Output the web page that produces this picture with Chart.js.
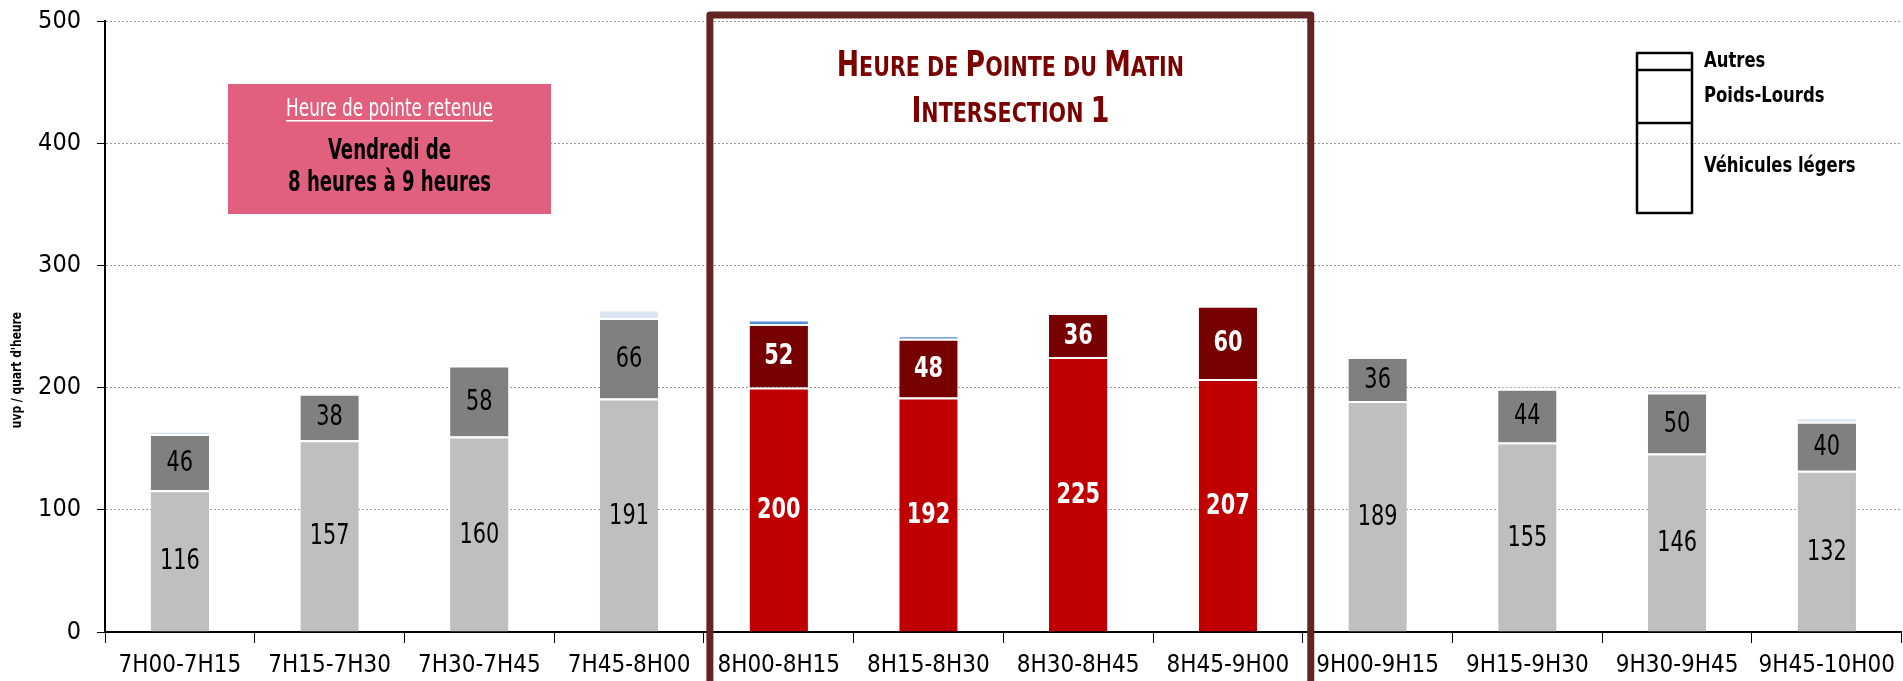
<!DOCTYPE html>
<html>
<head>
<meta charset="utf-8">
<script src="https://cdn.jsdelivr.net/npm/chart.js@4.4.1/dist/chart.umd.min.js"></script>
<style>
  html, body { margin: 0; padding: 0; background: #fff; overflow: hidden; }
  #wrap { width: 1903px; height: 681px; position: relative; }
</style>
</head>
<body>
<div id="wrap"><canvas id="chart"></canvas></div>
<script>
// Data
const categories = ['7H00-7H15', '7H15-7H30', '7H30-7H45', '7H45-8H00', '8H00-8H15', '8H15-8H30',
  '8H30-8H45', '8H45-9H00', '9H00-9H15', '9H15-9H30', '9H30-9H45', '9H45-10H00'];
const vehiculesLegers = [116, 157, 160, 191, 200, 192, 225, 207, 189, 155, 146, 132];
const poidsLourds = [46, 38, 58, 66, 52, 48, 36, 60, 36, 44, 50, 40];
const autres = [2, 0, 0, 6, 3, 2, 0, 0, 0, 1, 2, 3];
const peakHours = ['8H00-8H15', '8H15-8H30', '8H30-8H45', '8H45-9H00'];
const yTicks = [0, 100, 200, 300, 400, 500];

const NARROW = '"Liberation Sans Narrow", "Arial Narrow", "DejaVu Sans Condensed", sans-serif';

const isPeak = categories.map(c => peakHours.includes(c));
const colorsFor = (peak, normal) => isPeak.map(p => p ? peak : normal);

// text squeezed sideways, to look like the narrow font of the original
function narrowText(ctx, text, x, y, font, align, sx) {
  ctx.save();
  ctx.font = font;
  ctx.textAlign = 'left';
  const w = ctx.measureText(text).width * sx;
  let left = x;
  if (align === 'center') left = x - w / 2;
  else if (align === 'right') left = x - w;
  ctx.translate(left, y);
  ctx.scale(sx, 1);
  ctx.fillText(text, 0, 0);
  ctx.restore();
  return w;
}

// Value labels centred in the segments
const valueLabels = {
  id: 'valueLabels',
  afterDatasetsDraw(chart) {
    const ctx = chart.ctx;
    ctx.save();
    ctx.textBaseline = 'middle';
    [0, 1].forEach(di => {
      const meta = chart.getDatasetMeta(di);
      meta.data.forEach((bar, i) => {
        const v = chart.data.datasets[di].data[i];
        ctx.fillStyle = isPeak[i] ? '#fff' : '#000';
        narrowText(ctx, String(v), bar.x, (bar.y + bar.base) / 2 + 1,
          (isPeak[i] ? 'bold ' : '') + '29px ' + NARROW, 'center', 0.8);
      });
    });
    ctx.restore();
  }
};

// Frame, title, note box, legend
const decor = {
  id: 'decor',
  afterDraw(chart) {
    const ctx = chart.ctx;
    const x = chart.scales.x;
    ctx.save();

    // y title
    ctx.save();
    ctx.translate(17, 370);
    ctx.rotate(-Math.PI / 2);
    ctx.fillStyle = '#000';
    ctx.textBaseline = 'middle';
    narrowText(ctx, "uvp / quart d'heure", 0, 0, 'bold 14px ' + NARROW, 'center', 0.85);
    ctx.restore();

    // note box
    ctx.fillStyle = '#E0607E';
    ctx.fillRect(228, 84, 323, 130);
    ctx.textBaseline = 'middle';
    ctx.fillStyle = '#fff';
    const nw = narrowText(ctx, 'Heure de pointe retenue', 389.5, 109, '25px ' + NARROW, 'center', 0.75);
    ctx.fillRect(389.5 - nw / 2, 120, nw, 1.5);
    ctx.fillStyle = '#000';
    narrowText(ctx, 'Vendredi de', 389.5, 152, 'bold 28px ' + NARROW, 'center', 0.72);
    narrowText(ctx, '8 heures à 9 heures', 389.5, 184, 'bold 28px ' + NARROW, 'center', 0.72);

    // frame round the peak hour
    const left = x.getPixelForValue(3.5) + 6;
    const right = x.getPixelForValue(7.5) + 8;
    ctx.strokeStyle = '#632523';
    ctx.lineWidth = 7;
    ctx.lineJoin = 'round';
    ctx.beginPath();
    ctx.moveTo(left, 700);
    ctx.lineTo(left, 15);
    ctx.lineTo(right, 15);
    ctx.lineTo(right, 700);
    ctx.stroke();

    // title in small caps
    const cx = (left + right) / 2;
    const drawCaps = (parts, y) => {
      ctx.textBaseline = 'alphabetic';
      const sx = 0.85;
      let w = 0;
      parts.forEach(p => { ctx.font = 'bold ' + p[1] + 'px ' + NARROW; w += ctx.measureText(p[0]).width * sx; });
      let px = cx - w / 2;
      parts.forEach(p => {
        px += narrowText(ctx, p[0], px, y, 'bold ' + p[1] + 'px ' + NARROW, 'left', sx);
      });
    };
    ctx.fillStyle = '#7B0000';
    drawCaps([['H', 35], ['EURE DE ', 27], ['P', 35], ['OINTE DU ', 27], ['M', 35], ['ATIN', 27]], 76);
    drawCaps([['I', 35], ['NTERSECTION ', 27], ['1', 35]], 122);

    // legend
    ctx.strokeStyle = '#000';
    ctx.lineWidth = 2.5;
    ctx.strokeRect(1637, 53, 55, 160);
    ctx.beginPath();
    ctx.moveTo(1637, 70); ctx.lineTo(1692, 70);
    ctx.moveTo(1637, 123); ctx.lineTo(1692, 123);
    ctx.stroke();
    ctx.fillStyle = '#000';
    ctx.textBaseline = 'middle';
    const lf = 'bold 21px ' + NARROW;
    narrowText(ctx, 'Autres', 1704, 62, lf, 'left', 0.87);
    narrowText(ctx, 'Poids-Lourds', 1704, 97, lf, 'left', 0.87);
    narrowText(ctx, 'Véhicules légers', 1704, 167, lf, 'left', 0.87);
    ctx.restore();
  }
};

new Chart(document.getElementById('chart'), {
  type: 'bar',
  data: {
    labels: categories,
    datasets: [
      {
        label: 'Véhicules légers',
        data: vehiculesLegers,
        backgroundColor: colorsFor('#C00000', '#BFBFBF'),
        borderColor: '#fff',
        borderWidth: { top: 2, left: 0, right: 0, bottom: 0 }
      },
      {
        label: 'Poids-Lourds',
        data: poidsLourds,
        backgroundColor: colorsFor('#770000', '#808080'),
        borderColor: '#fff',
        borderWidth: { top: 2, left: 0, right: 0, bottom: 0 }
      },
      {
        label: 'Autres',
        data: autres,
        backgroundColor: colorsFor('#558ED5', '#DCE6F2'),
        borderColor: '#fff',
        borderWidth: { top: 1, left: 0, right: 0, bottom: 0 }
      }
    ]
  },
  options: {
    responsive: true,
    maintainAspectRatio: false,
    animation: false,
    layout: { padding: { top: 21, right: 0, left: 0, bottom: 0 } },
    datasets: { bar: { barPercentage: 0.39, categoryPercentage: 1 } },
    plugins: {
      legend: { display: false },
      tooltip: { enabled: false },
      title: { display: false }
    },
    scales: {
      x: {
        stacked: true,
        afterFit: axis => { axis.height = 49; },
        grid: { offset: true, drawOnChartArea: false, drawTicks: true, tickLength: 11, color: '#000' },
        border: { display: true, color: '#000', width: 2 },
        ticks: { color: '#000', font: { family: NARROW, size: 24 }, padding: 8, maxRotation: 0, autoSkip: false }
      },
      y: {
        stacked: true,
        min: 0,
        max: 500,
        afterBuildTicks: axis => { axis.ticks = yTicks.map(v => ({ value: v })); },
        afterFit: axis => { axis.width = 105; axis.paddingTop = 0; axis.paddingBottom = 0; },
        grid: {
          color: '#9a9a9a',
          tickColor: '#000',
          tickLength: 8,
          tickBorderDash: [],
          borderDash: [2, 2]
        },
        border: { display: true, color: '#000', width: 2, dash: [2, 2] },
        ticks: { color: '#000', font: { family: NARROW, size: 25 }, padding: 16 }
      }
    }
  },
  plugins: [valueLabels, decor]
});
</script>
</body>
</html>
